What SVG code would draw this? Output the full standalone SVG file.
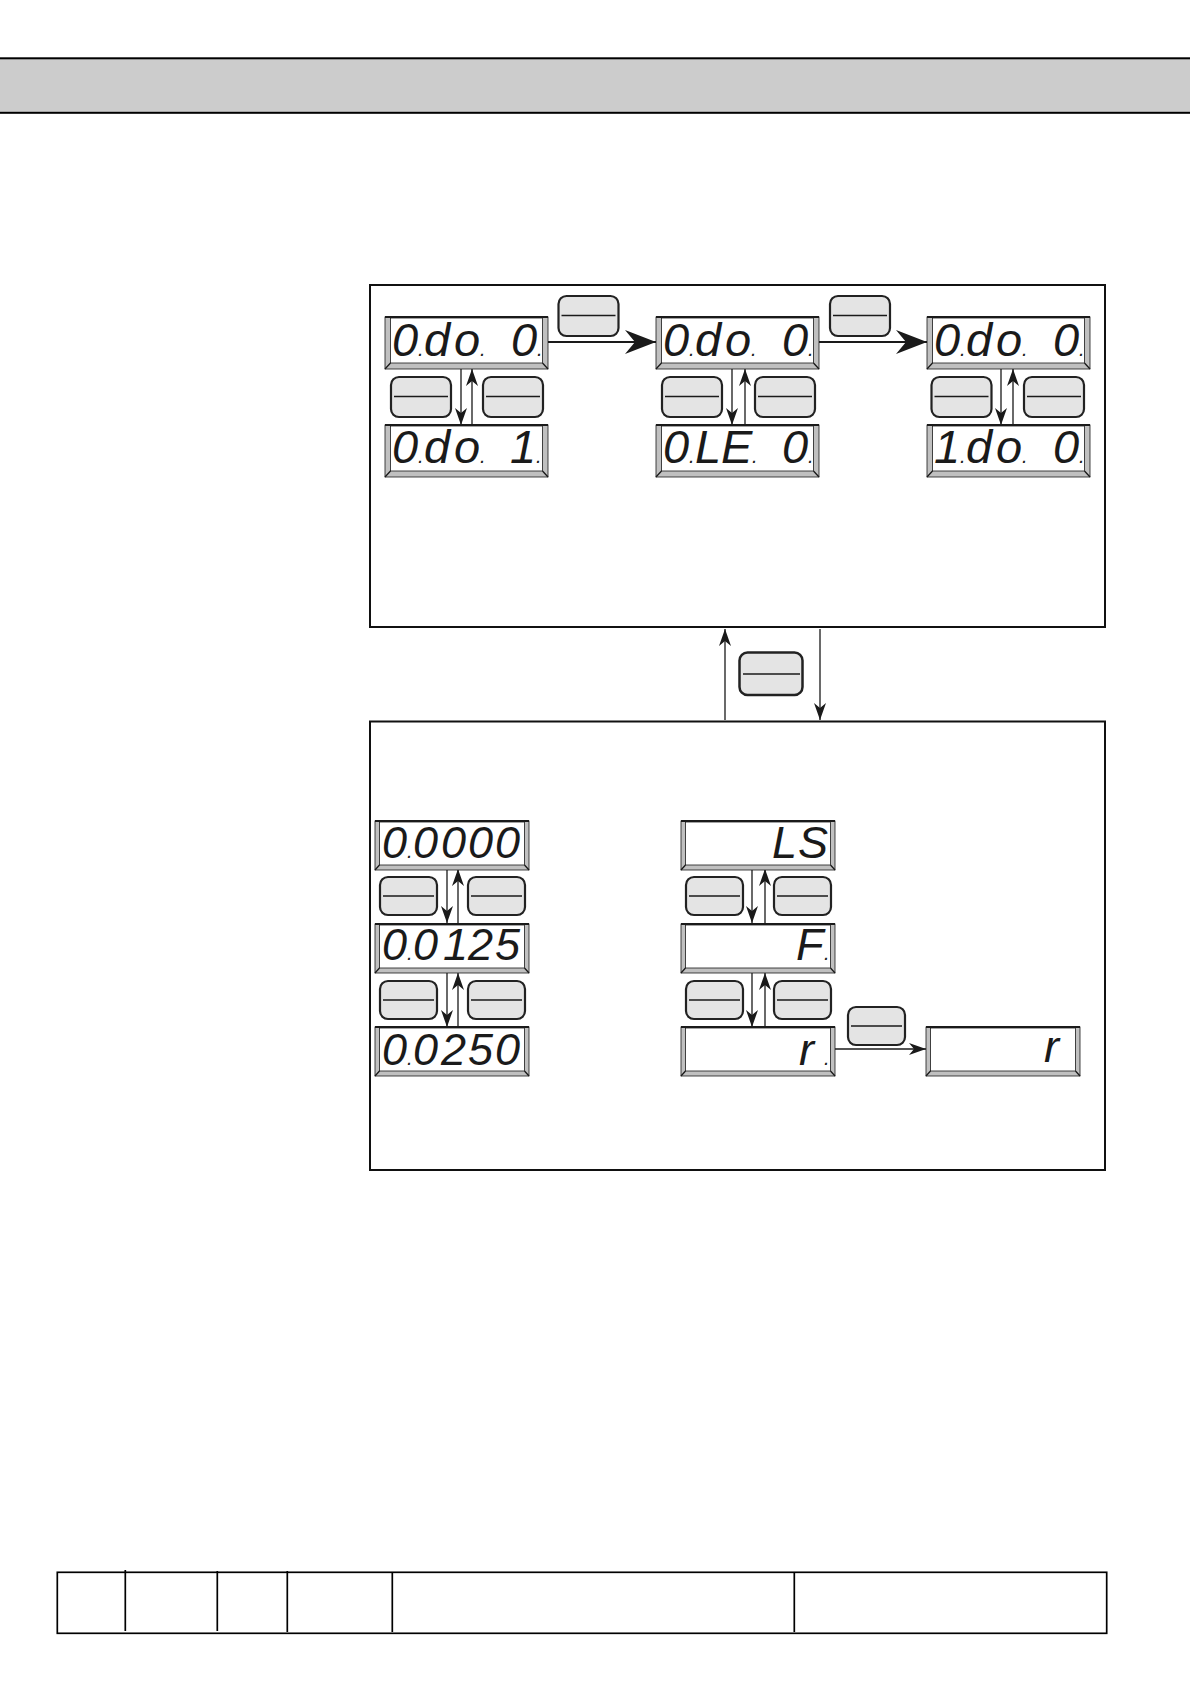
<svg xmlns="http://www.w3.org/2000/svg" width="1190" height="1684" viewBox="0 0 1190 1684">
<style>
.seg{font-family:"Liberation Sans",Arial,sans-serif;font-style:italic;font-size:47px;fill:#1a1a1a}
.s2{font-size:45px}
.dp{font-size:20px}
.box{fill:none;stroke:#111;stroke-width:2}
.ln{fill:none;stroke:#1a1a1a;stroke-width:1.300}
.tb{fill:none;stroke:#000;stroke-width:1.700}
.key{fill:#e4e4e4;stroke:#222;stroke-width:2.200}
.bev{fill:#c0c0c0;stroke:#1a1a1a;stroke-width:.8}
.face{fill:#fff;stroke:#1a1a1a;stroke-width:.8}
.top{fill:none;stroke:#1a1a1a;stroke-width:2}
</style>
<defs>
<marker id="a" markerUnits="userSpaceOnUse" markerWidth="18" markerHeight="14" refX="17" refY="7" orient="auto"><path d="M0 1L17 7L0 13L5 7Z" fill="#1a1a1a"/></marker>
<marker id="b" markerUnits="userSpaceOnUse" markerWidth="32" markerHeight="26" refX="31" refY="13" orient="auto"><path d="M0 1L31 13L0 25L10 13Z" fill="#1a1a1a"/></marker>
<g id="d1"><rect class="bev" x="0" y="0" width="163" height="52"/><rect class="face" x="5.500" y="1" width="152" height="45"/><path class="ln" d="M0 52L5.500 46M163 52L157.500 46"/><path class="top" d="M0 0H163"/></g>
<g id="d2"><rect class="bev" x="0" y="0" width="154" height="49"/><rect class="face" x="4.500" y="1" width="145" height="43"/><path class="ln" d="M0 49L4.500 44M154 49L149.500 44"/><path class="top" d="M0 0H154"/></g>
<g id="k1"><rect class="key" x="0" y="0" width="60" height="40" rx="8"/><path class="ln" d="M3 19.500H57"/></g>
<g id="k2"><rect class="key" x="0" y="0" width="57" height="38" rx="8"/><path class="ln" d="M3 19H54"/></g>
</defs>
<g id="header"><rect x="-3" y="58.300" width="1196" height="54.500" fill="#cccccc" stroke="#000" stroke-width="2"/></g>
<g id="panel-top"><rect class="box" x="370" y="285" width="735" height="342"/></g>
<g id="panel-bottom"><rect class="box" x="370" y="721.500" width="735" height="448.500"/></g>

<g id="connectors">
<path class="ln" style="stroke-width:2" d="M548 342H656" marker-end="url(#b)"/>
<path class="ln" style="stroke-width:2" d="M819 342H927" marker-end="url(#b)"/>
<path class="ln" d="M461 369V425" marker-end="url(#a)"/><path class="ln" d="M472 425V369" marker-end="url(#a)"/>
<path class="ln" d="M732 369V425" marker-end="url(#a)"/><path class="ln" d="M745 425V369" marker-end="url(#a)"/>
<path class="ln" d="M1001 369V425" marker-end="url(#a)"/><path class="ln" d="M1013 425V369" marker-end="url(#a)"/>
<path class="ln" d="M725 720V629" marker-end="url(#a)"/><path class="ln" d="M820 629V720" marker-end="url(#a)"/>
<path class="ln" d="M447 869V923" marker-end="url(#a)"/><path class="ln" d="M458 923V869" marker-end="url(#a)"/>
<path class="ln" d="M447 973V1027" marker-end="url(#a)"/><path class="ln" d="M458 1027V973" marker-end="url(#a)"/>
<path class="ln" d="M752 869V923" marker-end="url(#a)"/><path class="ln" d="M765 923V869" marker-end="url(#a)"/>
<path class="ln" d="M752 973V1027" marker-end="url(#a)"/><path class="ln" d="M765 1027V973" marker-end="url(#a)"/>
<path class="ln" d="M835 1049H926" marker-end="url(#a)"/>
</g>

<g id="key-1"><use href="#k1" x="558.500" y="296"/></g>
<g id="key-2"><use href="#k1" x="830" y="296"/></g>
<g id="key-3"><use href="#k1" x="391" y="377"/></g>
<g id="key-4"><use href="#k1" x="483" y="377"/></g>
<g id="key-5"><use href="#k1" x="662" y="377"/></g>
<g id="key-6"><use href="#k1" x="755" y="377"/></g>
<g id="key-7"><use href="#k1" x="931.500" y="377"/></g>
<g id="key-8"><use href="#k1" x="1024" y="377"/></g>
<g id="key-9"><rect class="key" style="stroke-width:2.500" x="739.500" y="652.500" width="63" height="42.500" rx="8"/><path class="ln" d="M743 674H800"/></g>
<g id="key-10"><use href="#k2" x="380" y="877"/></g>
<g id="key-11"><use href="#k2" x="468" y="877"/></g>
<g id="key-12"><use href="#k2" x="380" y="981"/></g>
<g id="key-13"><use href="#k2" x="468" y="981"/></g>
<g id="key-14"><use href="#k2" x="686" y="877"/></g>
<g id="key-15"><use href="#k2" x="774" y="877"/></g>
<g id="key-16"><use href="#k2" x="686" y="981"/></g>
<g id="key-17"><use href="#k2" x="774" y="981"/></g>
<g id="key-18"><use href="#k2" x="848" y="1007"/></g>

<g id="display-1"><use href="#d1" x="385" y="317"/><text class="seg" y="356" x="392 418 424 454 480 486 511 537">0<tspan class="dp">.</tspan>do<tspan class="dp">.</tspan> 0<tspan class="dp">.</tspan></text></g>
<g id="display-2"><use href="#d1" x="385" y="425"/><text class="seg" y="463" x="392 418 424 454 480 486 510 536">0<tspan class="dp">.</tspan>do<tspan class="dp">.</tspan> 1<tspan class="dp">.</tspan></text></g>
<g id="display-3"><use href="#d1" x="656" y="317"/><text class="seg" y="356" x="663 689 695 725 751 757 782 808">0<tspan class="dp">.</tspan>do<tspan class="dp">.</tspan> 0<tspan class="dp">.</tspan></text></g>
<g id="display-4"><use href="#d1" x="656" y="425"/><text class="seg" y="463" x="663 689 695 721 752 758 782 808">0<tspan class="dp">.</tspan>LE<tspan class="dp">.</tspan> 0<tspan class="dp">.</tspan></text></g>
<g id="display-5"><use href="#d1" x="927" y="317"/><text class="seg" y="356" x="934 960 966 996 1022 1028 1053 1079">0<tspan class="dp">.</tspan>do<tspan class="dp">.</tspan> 0<tspan class="dp">.</tspan></text></g>
<g id="display-6"><use href="#d1" x="927" y="425"/><text class="seg" y="463" x="934 960 966 996 1022 1028 1053 1079">1<tspan class="dp">.</tspan>do<tspan class="dp">.</tspan> 0<tspan class="dp">.</tspan></text></g>
<g id="display-7"><use href="#d2" x="375" y="821"/><text class="seg s2" y="858" x="382 407 413 441 468 495">0<tspan class="dp">.</tspan>0000</text></g>
<g id="display-8"><use href="#d2" x="375" y="924"/><text class="seg s2" y="960" x="382 407 413 443 468 495">0<tspan class="dp">.</tspan>0125</text></g>
<g id="display-9"><use href="#d2" x="375" y="1027"/><text class="seg s2" y="1065" x="382 407 413 441 468 495">0<tspan class="dp">.</tspan>0250</text></g>
<g id="display-10"><use href="#d2" x="681" y="821"/><text class="seg s2" y="858" x="772 798">LS</text></g>
<g id="display-11"><use href="#d2" x="681" y="924"/><text class="seg s2" y="960" x="796 824">F<tspan class="dp">.</tspan></text></g>
<g id="display-12"><use href="#d2" x="681" y="1027"/><text class="seg s2" y="1065" x="799 824">r<tspan class="dp">.</tspan></text></g>
<g id="display-13"><use href="#d2" x="926" y="1027"/><text class="seg s2" y="1062" x="1044">r</text></g>

<g id="footer-table"><rect class="tb" x="57.300" y="1572.300" width="1049.400" height="61"/><path class="tb" d="M125.300 1570V1631M217.300 1571V1631M287.300 1571V1632M392.300 1572V1632M794.300 1572V1632"/></g>
</svg>
